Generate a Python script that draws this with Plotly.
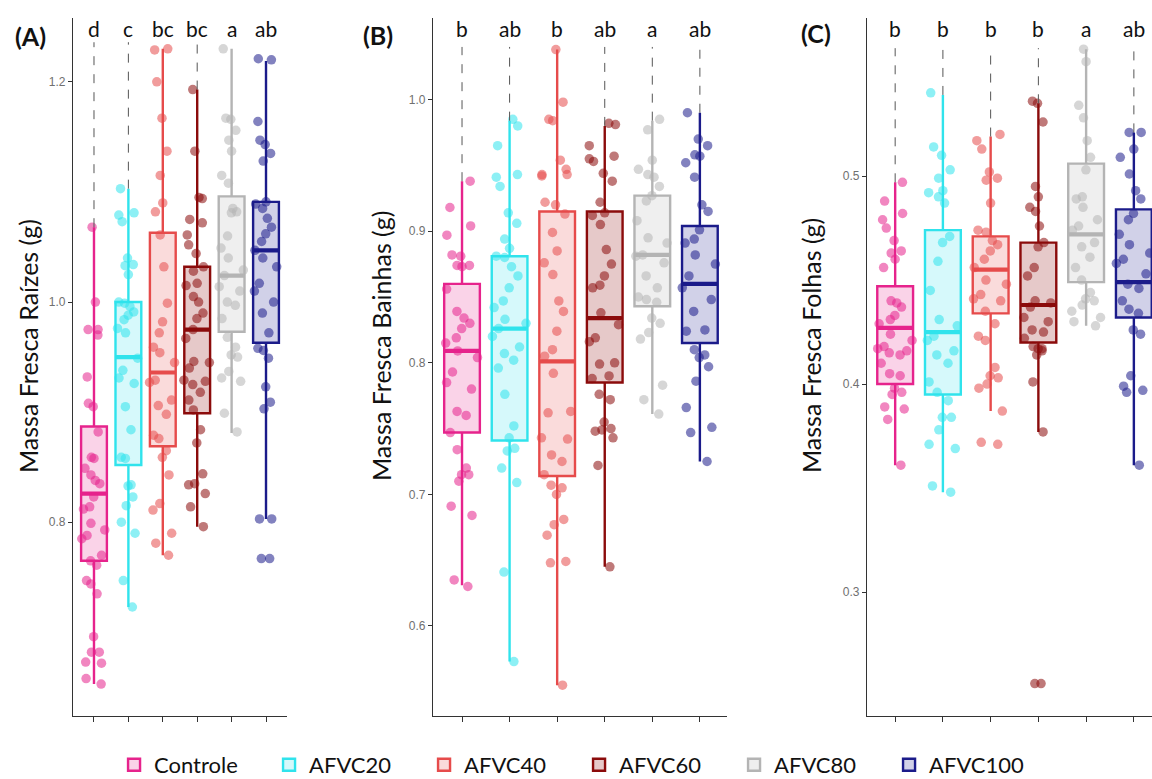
import plotly.graph_objects as go

groups = ["Controle", "AFVC20", "AFVC40", "AFVC60", "AFVC80", "AFVC100"]
colors = ["#E6238C", "#30E3EC", "#E64B4B", "#8B0B0B", "#B4B4B4", "#1B1B8A"]
fills = ["rgba(230,35,140,0.2)", "rgba(48,227,236,0.2)", "rgba(230,75,75,0.2)",
         "rgba(139,11,11,0.22)", "rgba(180,180,180,0.22)", "rgba(27,27,138,0.2)"]

# ---------- Panel A: Massa Fresca Raízes ----------
raiz_controle = [1.068, 1.000, 0.975, 0.975, 0.970, 0.932, 0.908, 0.905, 0.882, 0.859, 0.858, 0.849,
                 0.843, 0.838, 0.835, 0.823, 0.814, 0.812, 0.799, 0.793, 0.788, 0.785, 0.770, 0.765,
                 0.761, 0.747, 0.744, 0.735, 0.696, 0.682, 0.682, 0.673, 0.672, 0.658, 0.653]
raiz_afvc20 = [1.103, 1.081, 1.079, 1.073, 1.040, 1.034, 1.033, 1.025, 1.000, 0.999, 0.996, 0.991,
               0.988, 0.984, 0.976, 0.972, 0.949, 0.938, 0.931, 0.926, 0.905, 0.884, 0.859, 0.858,
               0.834, 0.833, 0.823, 0.815, 0.800, 0.790, 0.747, 0.723]
raiz_afvc40 = [1.230, 1.229, 1.200, 1.167, 1.137, 1.115, 1.090, 1.082, 1.061, 1.032, 0.999, 0.982,
               0.972, 0.959, 0.954, 0.945, 0.929, 0.927, 0.911, 0.906, 0.898, 0.879, 0.876, 0.865,
               0.859, 0.843, 0.817, 0.811, 0.790, 0.781, 0.770]
raiz_afvc60 = [1.193, 1.137, 1.095, 1.094, 1.075, 1.072, 1.061, 1.052, 1.044, 1.032, 1.028, 1.017,
               1.015, 1.005, 1.000, 0.990, 0.985, 0.975, 0.967, 0.946, 0.945, 0.940, 0.929, 0.928,
               0.925, 0.918, 0.911, 0.902, 0.884, 0.872, 0.844, 0.835, 0.834, 0.826, 0.814, 0.796]
raiz_afvc80 = [1.230, 1.167, 1.166, 1.156, 1.147, 1.137, 1.115, 1.108, 1.085, 1.082, 1.081, 1.060,
               1.049, 1.040, 1.029, 1.024, 1.014, 1.010, 1.000, 0.997, 0.985, 0.968, 0.959, 0.952,
               0.950, 0.937, 0.931, 0.928, 0.899, 0.882]
raiz_afvc100 = [1.221, 1.220, 1.164, 1.147, 1.143, 1.135, 1.128, 1.091, 1.089, 1.085, 1.076, 1.068,
                1.062, 1.055, 1.047, 1.040, 1.032, 1.017, 1.010, 1.000, 0.990, 0.972, 0.958, 0.956,
                0.949, 0.923, 0.909, 0.903, 0.803, 0.803, 0.767, 0.767]
raiz_q1 = [0.765, 0.852, 0.869, 0.899, 0.973, 0.963]
raiz_median = [0.826, 0.950, 0.936, 0.975, 1.024, 1.047]
raiz_q3 = [0.887, 1.000, 1.063, 1.032, 1.096, 1.091]
raiz_low = [0.653, 0.723, 0.770, 0.796, 0.881, 0.803]
raiz_high = [1.068, 1.103, 1.230, 1.193, 1.230, 1.219]
raiz_letters = ["d", "c", "bc", "bc", "a", "ab"]
raiz_dashed = [True, True, False, True, False, False]

# ---------- Panel B: Massa Fresca Bainhas ----------
bainha_controle = [0.938, 0.918, 0.904, 0.897, 0.882, 0.881, 0.874, 0.874, 0.873, 0.856, 0.839, 0.834,
                   0.830, 0.826, 0.819, 0.815, 0.809, 0.804, 0.793, 0.785, 0.780, 0.763, 0.760, 0.747,
                   0.734, 0.720, 0.715, 0.715, 0.710, 0.691, 0.684, 0.635, 0.630]
bainha_afvc20 = [0.985, 0.980, 0.965, 0.943, 0.941, 0.934, 0.914, 0.906, 0.894, 0.887, 0.881, 0.880,
                 0.873, 0.866, 0.857, 0.847, 0.842, 0.833, 0.830, 0.826, 0.820, 0.812, 0.807, 0.802,
                 0.796, 0.776, 0.752, 0.743, 0.735, 0.733, 0.720, 0.709, 0.641, 0.573]
bainha_afvc40 = [1.038, 0.998, 0.985, 0.984, 0.954, 0.947, 0.943, 0.943, 0.942, 0.922, 0.920, 0.913,
                 0.899, 0.885, 0.876, 0.867, 0.847, 0.839, 0.824, 0.810, 0.805, 0.792, 0.763, 0.762,
                 0.743, 0.742, 0.730, 0.725, 0.715, 0.707, 0.705, 0.700, 0.681, 0.677, 0.669, 0.649,
                 0.648, 0.555]
bainha_afvc60 = [0.982, 0.981, 0.965, 0.957, 0.955, 0.953, 0.944, 0.938, 0.922, 0.914, 0.912, 0.905,
                 0.886, 0.875, 0.866, 0.859, 0.857, 0.838, 0.829, 0.819, 0.816, 0.800, 0.799, 0.790,
                 0.788, 0.776, 0.772, 0.755, 0.750, 0.749, 0.748, 0.743, 0.722, 0.645]
bainha_afvc80 = [0.985, 0.977, 0.954, 0.947, 0.943, 0.941, 0.934, 0.927, 0.923, 0.908, 0.895, 0.891,
                 0.882, 0.881, 0.876, 0.866, 0.857, 0.850, 0.848, 0.846, 0.834, 0.830, 0.823, 0.818,
                 0.783, 0.772, 0.761]
bainha_afvc100 = [0.990, 0.970, 0.965, 0.958, 0.957, 0.952, 0.941, 0.920, 0.915, 0.901, 0.894, 0.891,
                  0.882, 0.875, 0.866, 0.857, 0.848, 0.839, 0.825, 0.824, 0.810, 0.806, 0.804, 0.797,
                  0.786, 0.766, 0.751, 0.747, 0.725]
bainha_q1 = [0.747, 0.741, 0.714, 0.785, 0.843, 0.815]
bainha_median = [0.809, 0.826, 0.801, 0.834, 0.882, 0.860]
bainha_q3 = [0.860, 0.881, 0.915, 0.915, 0.927, 0.904]
bainha_low = [0.631, 0.573, 0.555, 0.645, 0.761, 0.725]
bainha_high = [0.938, 0.984, 1.038, 0.980, 0.984, 0.990]
bainha_letters = ["b", "ab", "b", "ab", "a", "ab"]
bainha_dashed = [True, True, False, True, True, True]

# ---------- Panel C: Massa Fresca Folhas ----------
folha_controle = [0.497, 0.488, 0.482, 0.479, 0.475, 0.469, 0.464, 0.463, 0.460, 0.456, 0.440, 0.439,
                  0.437, 0.433, 0.431, 0.429, 0.424, 0.421, 0.418, 0.417, 0.416, 0.415, 0.414, 0.410,
                  0.405, 0.404, 0.398, 0.396, 0.395, 0.389, 0.388, 0.383, 0.361]
folha_afvc20 = [0.540, 0.514, 0.510, 0.503, 0.499, 0.493, 0.492, 0.490, 0.487, 0.471, 0.468, 0.459,
                0.445, 0.431, 0.428, 0.423, 0.421, 0.416, 0.414, 0.410, 0.401, 0.396, 0.392, 0.384,
                0.384, 0.378, 0.371, 0.369, 0.351, 0.348]
folha_afvc40 = [0.520, 0.517, 0.513, 0.502, 0.499, 0.498, 0.487, 0.474, 0.473, 0.469, 0.467, 0.464,
                0.460, 0.456, 0.450, 0.448, 0.443, 0.441, 0.440, 0.435, 0.429, 0.423, 0.421, 0.408,
                0.404, 0.403, 0.400, 0.398, 0.387, 0.372, 0.371]
folha_afvc60 = [0.536, 0.535, 0.526, 0.495, 0.490, 0.485, 0.483, 0.476, 0.468, 0.466, 0.456, 0.452,
                0.440, 0.439, 0.437, 0.432, 0.430, 0.426, 0.425, 0.422, 0.418, 0.417, 0.417, 0.416,
                0.414, 0.401, 0.377, 0.256, 0.256]
folha_afvc80 = [0.561, 0.555, 0.534, 0.528, 0.517, 0.509, 0.503, 0.490, 0.489, 0.485, 0.479, 0.476,
                0.474, 0.468, 0.466, 0.461, 0.456, 0.450, 0.444, 0.441, 0.440, 0.438, 0.435, 0.432,
                0.430, 0.428]
folha_afvc100 = [0.521, 0.521, 0.513, 0.509, 0.501, 0.493, 0.489, 0.482, 0.479, 0.472, 0.467, 0.463,
                 0.460, 0.458, 0.453, 0.448, 0.446, 0.440, 0.436, 0.434, 0.426, 0.424, 0.404, 0.399,
                 0.397, 0.396, 0.361]
folha_q1 = [0.400, 0.395, 0.434, 0.420, 0.449, 0.432]
folha_median = [0.427, 0.425, 0.455, 0.438, 0.472, 0.449]
folha_q3 = [0.447, 0.474, 0.471, 0.468, 0.506, 0.484]
folha_low = [0.361, 0.348, 0.387, 0.377, 0.428, 0.361]
folha_high = [0.497, 0.539, 0.519, 0.535, 0.561, 0.521]
folha_letters = ["b", "b", "b", "b", "a", "ab"]
folha_dashed = [True, True, True, True, False, True]

panels = [
    dict(pts=[raiz_controle, raiz_afvc20, raiz_afvc40, raiz_afvc60, raiz_afvc80, raiz_afvc100],
         q1=raiz_q1, med=raiz_median, q3=raiz_q3, lo=raiz_low, hi=raiz_high,
         letters=raiz_letters, dashed=raiz_dashed, dash_top=1.236,
         title="Massa Fresca Raízes (g)", label="(A)",
         xdom=[73 / 1152, 287 / 1152], xrange=[-0.61, 5.61], yrange=[0.624, 1.258],
         ticks=[0.8, 1.0, 1.2], label_x=30, label_y=36, title_x=28),
    dict(pts=[bainha_controle, bainha_afvc20, bainha_afvc40, bainha_afvc60, bainha_afvc80, bainha_afvc100],
         q1=bainha_q1, med=bainha_median, q3=bainha_q3, lo=bainha_low, hi=bainha_high,
         letters=bainha_letters, dashed=bainha_dashed, dash_top=1.040,
         title="Massa Fresca Bainhas (g)", label="(B)",
         xdom=[433 / 1152, 727 / 1152], xrange=[-0.61, 5.57], yrange=[0.5316, 1.062],
         ticks=[0.6, 0.7, 0.8, 0.9, 1.0], label_x=378, label_y=35, title_x=381),
    dict(pts=[folha_controle, folha_afvc20, folha_afvc40, folha_afvc60, folha_afvc80, folha_afvc100],
         q1=folha_q1, med=folha_median, q3=folha_q3, lo=folha_low, hi=folha_high,
         letters=folha_letters, dashed=folha_dashed, dash_top=0.5615,
         title="Massa Fresca Folhas (g)", label="(C)",
         xdom=[867 / 1152, 1.0], xrange=[-0.59, 5.38], yrange=[0.2404, 0.576],
         ticks=[0.3, 0.4, 0.5], label_x=816, label_y=33, title_x=811),
]

FONT = "Lato"
W, H = 1152, 779
fig = go.Figure()
annotations = []
ydom = [63 / H, 761 / H]

for p, P in enumerate(panels):
    sfx = "" if p == 0 else str(p + 1)
    xa, ya = "x" + sfx, "y" + sfx
    for i, g in enumerate(groups):
        # box with precomputed statistics
        fig.add_trace(go.Box(
            x=[g], q1=[P["q1"][i]], median=[P["med"][i]], q3=[P["q3"][i]],
            lowerfence=[P["lo"][i]], upperfence=[P["hi"][i]],
            name=g, legendgroup=g, showlegend=(p == 0),
            width=0.75, whiskerwidth=0, boxpoints=False,
            fillcolor=fills[i], line=dict(color=colors[i], width=2.4),
            xaxis=xa, yaxis=ya))
        # thick median bar (degenerate box at the median)
        fig.add_trace(go.Box(
            x=[g], q1=[P["med"][i]], median=[P["med"][i]], q3=[P["med"][i]],
            lowerfence=[P["med"][i]], upperfence=[P["med"][i]],
            name=g, legendgroup=g, showlegend=False,
            width=0.72, whiskerwidth=0, boxpoints=False,
            fillcolor="rgba(0,0,0,0)", line=dict(color=colors[i], width=4.2),
            hoverinfo="skip", xaxis=xa, yaxis=ya))
        # jittered observations
        fig.add_trace(go.Box(
            x=[g] * len(P["pts"][i]), y=P["pts"][i], name=g, legendgroup=g, showlegend=False,
            boxpoints="all", jitter=1.0, pointpos=0, width=0.8,
            fillcolor="rgba(0,0,0,0)", line=dict(color=colors[i], width=0),
            marker=dict(color=colors[i], opacity=0.55, size=9.5, line=dict(width=0)),
            hoveron="points", xaxis=xa, yaxis=ya))
        if P["dashed"][i]:
            fig.add_trace(go.Scatter(
                x=[g, g], y=[P["hi"][i], P["dash_top"]], mode="lines",
                line=dict(color="#555555", width=1, dash="dash"),
                showlegend=False, hoverinfo="skip", xaxis=xa, yaxis=ya))
        annotations.append(dict(
            x=g, y=(H - 28) / H, xref=xa, yref="paper", text=P["letters"][i],
            showarrow=False, font=dict(family=FONT, size=21, color="#111111"),
            xanchor="center", yanchor="middle"))
    # panel tag
    annotations.append(dict(
        x=P["label_x"] / W, y=(H - P["label_y"]) / H, xref="paper", yref="paper",
        text="<b>" + P["label"] + "</b>", showarrow=False,
        font=dict(family=FONT, size=25, color="#111111"), xanchor="center", yanchor="middle"))
    # y-axis title
    annotations.append(dict(
        x=P["title_x"] / W, y=(H - 346) / H, xref="paper", yref="paper",
        text=P["title"], textangle=-90, showarrow=False,
        font=dict(family=FONT, size=25, color="#111111"), xanchor="center", yanchor="middle"))

    fig.update_layout(**{
        "xaxis" + sfx: dict(domain=P["xdom"], anchor=ya, type="category", categoryorder="array",
                            categoryarray=groups, range=P["xrange"], showticklabels=False,
                            showline=True, linecolor="#333333", linewidth=1.3,
                            ticks="outside", ticklen=5, tickcolor="#333333", tickwidth=1.2,
                            showgrid=False, zeroline=False, automargin=False),
        "yaxis" + sfx: dict(domain=ydom, anchor=xa, range=P["yrange"], tickvals=P["ticks"],
                            tickformat=".1f", showline=True, linecolor="#333333", linewidth=1.3,
                            ticks="outside", ticklen=4, tickcolor="#333333", tickwidth=1.2,
                            tickfont=dict(family="Liberation Sans", size=12, color="#707070"),
                            showgrid=False, zeroline=False, automargin=False),
    })

fig.update_layout(
    width=W, height=H,
    margin=dict(l=0, r=0, t=0, b=0, autoexpand=False),
    paper_bgcolor="white", plot_bgcolor="white",
    boxmode="overlay",
    annotations=annotations,
    legend=dict(orientation="h", x=0.099, y=(H - 765) / H, xanchor="left", yanchor="middle",
                font=dict(family=FONT, size=22, color="#111111"),
                entrywidth=110, entrywidthmode="pixels", itemwidth=30),
    font=dict(family=FONT),
)

fig.write_html("out.html", config={"displayModeBar": False},
               post_script="document.body.style.margin='0';")
